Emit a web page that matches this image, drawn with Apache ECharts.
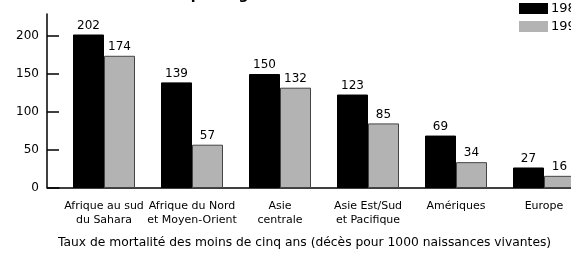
<!DOCTYPE html>
<html><head><meta charset="utf-8">
<script src="https://cdn.jsdelivr.net/npm/echarts@6/dist/echarts.min.js"></script>
<style>html,body{margin:0;padding:0;background:#fff}#c{width:571px;height:258px}</style>
</head><body><div id="c"></div>
<script>
const categories = ["Afrique au sud\ndu Sahara", "Afrique du Nord\net Moyen-Orient", "Asie\ncentrale", "Asie Est/Sud\net Pacifique", "Amériques", "Europe"];
const seriesNames = ["1980", "1999"];
const values1980 = [202, 139, 150, 123, 69, 27];
const values1999 = [174, 57, 132, 85, 34, 16];
const yTicks = [0, 50, 100, 150, 200];
const xTitle = "Taux de mortalité des moins de cinq ans (décès pour 1000 naissances vivantes)";
const chartTitle = "Mortalité des enfants par région";

const FONT = "'DejaVu Sans', sans-serif";
const chart = echarts.init(document.getElementById('c'), null, {renderer: 'canvas'});
const gridLeft = 60, gridBottom = 70, axisLeftX = 47;
chart.setOption({
  animation: false,
  textStyle: {fontFamily: FONT},
  title: [
    {text: chartTitle, left: 11, top: -17, textStyle: {fontSize: 14, fontWeight: 'bold', color: '#000', fontFamily: FONT}},
    {text: xTitle, left: 53, top: 232, textStyle: {fontSize: 12.3, fontWeight: 'normal', color: '#000', fontFamily: FONT}}
  ],
  legend: {
    orient: 'vertical', left: 514, top: -3, itemWidth: 29, itemHeight: 11, itemGap: 5,
    icon: 'rect', itemStyle: {borderWidth: 0},
    textStyle: {fontSize: 13, color: '#000', padding: [0,0,0,-2]},
    data: seriesNames
  },
  grid: {left: gridLeft, width: 528, top: 14, bottom: gridBottom, containLabel: false, outerBoundsMode: 'none'},
  xAxis: {
    type: 'category', data: categories,
    axisLine: {lineStyle: {color: '#000', width: 1.5}},
    axisTick: {alignWithLabel: true, length: 4, lineStyle: {color: '#000'}},
    axisLabel: {fontSize: 11, color: '#000', margin: 11, lineHeight: 14, interval: 0}
  },
  yAxis: {
    type: 'value', min: 0, max: 229, offset: gridLeft - axisLeftX,
    splitLine: {show: false},
    axisLine: {show: true, lineStyle: {color: '#000', width: 1.5}},
    axisTick: {show: true, inside: true, length: 12, customValues: yTicks, lineStyle: {color: '#000', width: 1.5}},
    axisLabel: {fontSize: 12, color: '#000', margin: 8, customValues: yTicks}
  },
  series: [
    {name: seriesNames[0], type: 'bar', data: values1980, barWidth: 31, barGap: '0%',
     itemStyle: {color: '#000', borderColor: '#000', borderWidth: 1},
     label: {show: true, position: 'top', fontSize: 12, color: '#000', distance: 3}},
    {name: seriesNames[1], type: 'bar', data: values1999, barWidth: 31, barGap: '0%',
     itemStyle: {color: '#b3b3b3', borderColor: '#444', borderWidth: 1},
     label: {show: true, position: 'top', fontSize: 12, color: '#000', distance: 3}}
  ],
  graphic: [{type: 'line', shape: {x1: axisLeftX, y1: 258 - gridBottom, x2: gridLeft, y2: 258 - gridBottom},
             style: {stroke: '#000', lineWidth: 1.5}}]
});
</script></body></html>
